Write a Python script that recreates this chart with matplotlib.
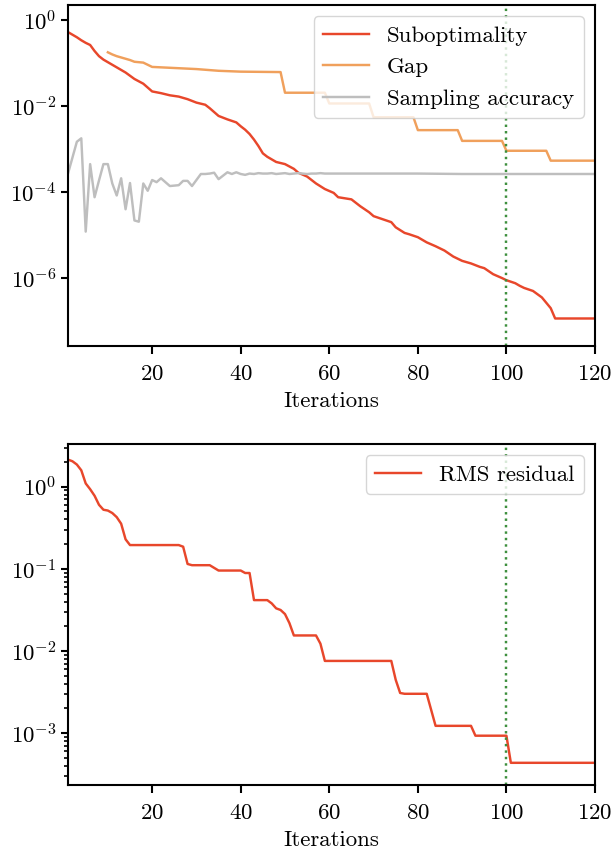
import numpy as np
import matplotlib
matplotlib.use("Agg")
import matplotlib.pyplot as plt
from matplotlib.ticker import NullLocator

# --- data (log10 values) ---
sub_it = [1, 2, 3, 4, 5, 6, 7, 8, 9, 10, 12, 14, 16, 18, 20, 22, 24, 26, 28, 30,
          32, 33, 35, 37, 39, 40, 41, 42, 43, 44, 45, 46, 47, 48, 50, 52, 53, 55,
          57, 59, 61, 62, 65, 67, 69, 70, 72, 74, 75, 77, 78, 80, 82, 84, 86, 88,
          90, 92, 94, 95, 97, 99, 100, 102, 103, 104, 106, 108, 110, 111, 120]
sub_log = [-0.28, -0.34, -0.40, -0.47, -0.53, -0.58, -0.72, -0.84, -0.92, -0.98,
           -1.10, -1.22, -1.37, -1.48, -1.66, -1.70, -1.75, -1.78, -1.84, -1.92,
           -1.97, -2.05, -2.23, -2.31, -2.38, -2.47, -2.55, -2.65, -2.78, -2.93,
           -3.10, -3.18, -3.24, -3.30, -3.35, -3.46, -3.55, -3.64, -3.80, -3.93,
           -4.02, -4.12, -4.17, -4.33, -4.47, -4.56, -4.63, -4.70, -4.82, -4.95,
           -4.98, -5.05, -5.17, -5.26, -5.36, -5.50, -5.60, -5.66, -5.74, -5.77,
           -5.91, -6.00, -6.05, -6.12, -6.18, -6.23, -6.30, -6.45, -6.70, -6.94,
           -6.94]

gap_it = [10, 11, 12, 13, 14, 15, 16, 17, 18, 19, 20, 22, 30, 35, 40, 49, 50, 59,
          60, 69, 70, 79, 80, 89, 90, 99, 100, 109, 110, 120]
gap_log = [-0.75, -0.80, -0.84, -0.87, -0.90, -0.93, -0.97, -0.98, -0.99, -1.04,
           -1.09, -1.10, -1.14, -1.18, -1.20, -1.21, -1.69, -1.69, -1.94, -1.94,
           -2.26, -2.26, -2.56, -2.56, -2.81, -2.81, -3.04, -3.04, -3.27, -3.27]

samp_it = list(range(1, 61)) + [70, 80, 90, 100, 110, 120]
samp_log = [-3.57, -3.20, -2.83, -2.75, -4.92, -3.35, -4.12, -3.73, -3.35, -3.35,
            -3.80, -4.08, -3.68, -4.40, -3.79, -4.66, -4.69, -3.80, -3.97, -3.72,
            -3.77, -3.68, -3.77, -3.86, -3.85, -3.84, -3.74, -3.74, -3.86, -3.72,
            -3.58, -3.58, -3.57, -3.55, -3.70, -3.62, -3.54, -3.58, -3.54, -3.58,
            -3.60, -3.57, -3.58, -3.56, -3.57, -3.57, -3.56, -3.58, -3.57, -3.56,
            -3.58, -3.57, -3.56, -3.57, -3.58, -3.57, -3.57, -3.56, -3.57, -3.57,
            -3.57, -3.57, -3.58, -3.58, -3.58, -3.58]

rms_it = [1, 2, 3, 4, 5, 6, 7, 8, 9, 10, 11, 12, 13, 14, 15, 26, 27, 28, 29, 33,
          35, 40, 41, 42, 43, 46, 47, 48, 49, 50, 51, 52, 57, 58, 59, 74, 75, 76,
          77, 82, 84, 92, 93, 100, 101, 120]
rms_log = [0.33, 0.31, 0.27, 0.20, 0.04, -0.03, -0.11, -0.22, -0.28, -0.29,
           -0.32, -0.37, -0.45, -0.64, -0.71, -0.71, -0.73, -0.94, -0.955, -0.955,
           -1.02, -1.02, -1.05, -1.05, -1.38, -1.38, -1.42, -1.48, -1.50, -1.55,
           -1.66, -1.81, -1.81, -1.91, -2.12, -2.12, -2.35, -2.51, -2.52, -2.52,
           -2.91, -2.91, -3.03, -3.03, -3.36, -3.36]

vline_at = 100

RED = "#e8472b"
ORANGE = "#f0a05c"
GREY = "#bebebe"
GREEN = "#3d8f3d"

plt.rcParams.update({
    "font.family": "serif",
    "font.serif": ["cmr10", "DejaVu Serif"],
    "mathtext.fontset": "cm",
    "axes.formatter.use_mathtext": True,
    "font.size": 16.5,
    "axes.linewidth": 1.5,
    "xtick.major.width": 1.5,
    "ytick.major.width": 1.5,
    "xtick.minor.width": 1.2,
    "ytick.minor.width": 1.2,
    "xtick.major.size": 6,
    "ytick.major.size": 5,
    "xtick.minor.size": 3,
    "ytick.minor.size": 3,
    "xtick.major.pad": 7,
})

fig = plt.figure(figsize=(6.11, 8.5), dpi=100)
ax1 = fig.add_axes([68 / 611, 1 - 346 / 850, (595 - 68) / 611, (346 - 5) / 850])
ax2 = fig.add_axes([68 / 611, 1 - 785 / 850, (595 - 68) / 611, (785 - 444) / 850])

LW = 1.75

# Top panel
ax1.plot(sub_it, 10.0 ** np.array(sub_log), color=RED, lw=LW, label="Suboptimality")
ax1.plot(gap_it, 10.0 ** np.array(gap_log), color=ORANGE, lw=LW, label="Gap")
ax1.plot(samp_it, 10.0 ** np.array(samp_log), color=GREY, lw=LW, label="Sampling accuracy")
ax1.axvline(vline_at, color=GREEN, ls=":", lw=1.75)
ax1.set_yscale("log")
ax1.set_xlim(1, 120)
ax1.set_ylim(10 ** -7.58, 10 ** 0.35)
ax1.set_yticks([1e0, 1e-2, 1e-4, 1e-6])
ax1.yaxis.set_minor_locator(NullLocator())
ax1.set_xticks([20, 40, 60, 80, 100, 120])
ax1.set_xlabel("Iterations", labelpad=6)
ax1.legend(loc="upper right")

# Bottom panel
ax2.plot(rms_it, 10.0 ** np.array(rms_log), color=RED, lw=LW, label="RMS residual")
ax2.axvline(vline_at, color=GREEN, ls=":", lw=1.75)
ax2.set_yscale("log")
ax2.set_xlim(1, 120)
ax2.set_ylim(10 ** -3.63, 10 ** 0.52)
ax2.set_xticks([20, 40, 60, 80, 100, 120])
ax2.set_xlabel("Iterations", labelpad=6)
ax2.legend(loc="upper right")

fig.savefig("out.png", dpi=100)
